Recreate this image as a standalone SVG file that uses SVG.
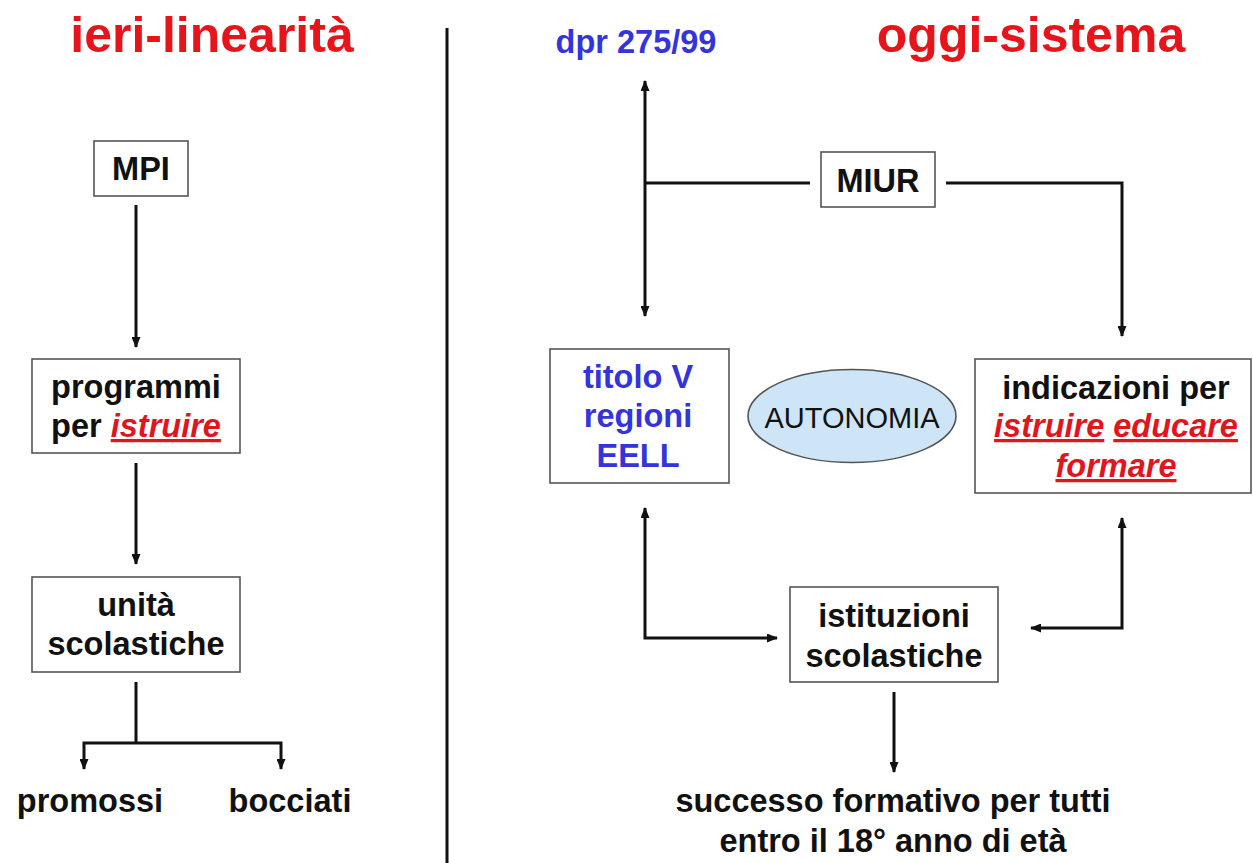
<svg xmlns="http://www.w3.org/2000/svg" width="1253" height="863" viewBox="0 0 1253 863">
<style>
  text { font-family: "Liberation Sans", Arial, sans-serif; font-weight: bold; font-size: 32.5px; text-anchor: middle; fill: #111; }
  .title { font-size: 50px; fill: #e8141c; }
  .blue { fill: #3434dc; }
  .red { fill: #e2141c; font-style: italic; }
  .ul { text-decoration: underline; }
  .auto { font-weight: normal; font-size: 29px; }
  .box { fill: #fff; stroke: #555; stroke-width: 1.6; }
  .conn { fill: none; stroke: #111; stroke-width: 3; }
</style>
<defs>
  <marker id="arr" viewBox="0 0 11 9" refX="10" refY="4.5" markerWidth="11" markerHeight="9" markerUnits="userSpaceOnUse" orient="auto-start-reverse">
    <path d="M0,0 L11,4.5 L0,9 z" fill="#111"/>
  </marker>
</defs>
<rect width="1253" height="863" fill="#fff"/>

<g id="titles">
  <text class="title" x="212" y="52">ieri-linearità</text>
  <text class="title" x="1031" y="52">oggi-sistema</text>
</g>
<line id="divider" x1="447" y1="28" x2="447" y2="863" stroke="#111" stroke-width="3"/>

<g id="connectors">
  <path class="conn" d="M136 205 V347" marker-end="url(#arr)"/>
  <path class="conn" d="M136 463 V564" marker-end="url(#arr)"/>
  <path class="conn" d="M136 682 V743"/>
  <path class="conn" d="M84 769 V743 H281 V769" marker-start="url(#arr)" marker-end="url(#arr)"/>
  <path class="conn" d="M645 81 V316" marker-start="url(#arr)" marker-end="url(#arr)"/>
  <path class="conn" d="M645 183 H810"/>
  <path class="conn" d="M946 183 H1122 V336" marker-end="url(#arr)"/>
  <path class="conn" d="M645 508 V638 H777" marker-start="url(#arr)" marker-end="url(#arr)"/>
  <path class="conn" d="M1122 518 V628 H1031" marker-start="url(#arr)" marker-end="url(#arr)"/>
  <path class="conn" d="M894 692 V772" marker-end="url(#arr)"/>
</g>

<g id="mpi">
  <rect class="box" x="94" y="141" width="94" height="55"/>
  <text x="141" y="180">MPI</text>
</g>
<g id="programmi">
  <rect class="box" x="32" y="359" width="208" height="94"/>
  <text x="136" y="398">programmi</text>
  <text x="136" y="437">per <tspan class="red ul">istruire</tspan></text>
</g>
<g id="unita">
  <rect class="box" x="32" y="577" width="208" height="95"/>
  <text x="136" y="616">unità</text>
  <text x="136" y="655">scolastiche</text>
</g>
<g id="promossi">
  <text x="90" y="812">promossi</text>
</g>
<g id="bocciati">
  <text x="290" y="812">bocciati</text>
</g>

<g id="dpr">
  <text class="blue" x="636" y="53">dpr 275/99</text>
</g>
<g id="miur">
  <rect class="box" x="821" y="152" width="114" height="55"/>
  <text x="878" y="192">MIUR</text>
</g>
<g id="titolo">
  <rect class="box" x="550" y="349" width="179" height="134"/>
  <text class="blue" x="638" y="388">titolo V</text>
  <text class="blue" x="638" y="427">regioni</text>
  <text class="blue" x="638" y="467">EELL</text>
</g>
<g id="autonomia">
  <ellipse cx="852" cy="416" rx="104" ry="46.5" fill="#cde5f7" stroke="#555" stroke-width="1.6"/>
  <text class="auto" x="852" y="428">AUTONOMIA</text>
</g>
<g id="indicazioni">
  <rect class="box" x="975" y="359" width="276" height="134"/>
  <text x="1116" y="399">indicazioni per</text>
  <text class="red" x="1116" y="437"><tspan class="ul">istruire</tspan> <tspan class="ul">educare</tspan></text>
  <text class="red ul" x="1116" y="477">formare</text>
</g>
<g id="istituzioni">
  <rect class="box" x="790" y="587" width="208" height="95"/>
  <text x="894" y="627">istituzioni</text>
  <text x="894" y="667">scolastiche</text>
</g>
<g id="successo">
  <text x="893" y="812">successo formativo per tutti</text>
  <text x="893" y="852">entro il 18° anno di età</text>
</g>
</svg>
